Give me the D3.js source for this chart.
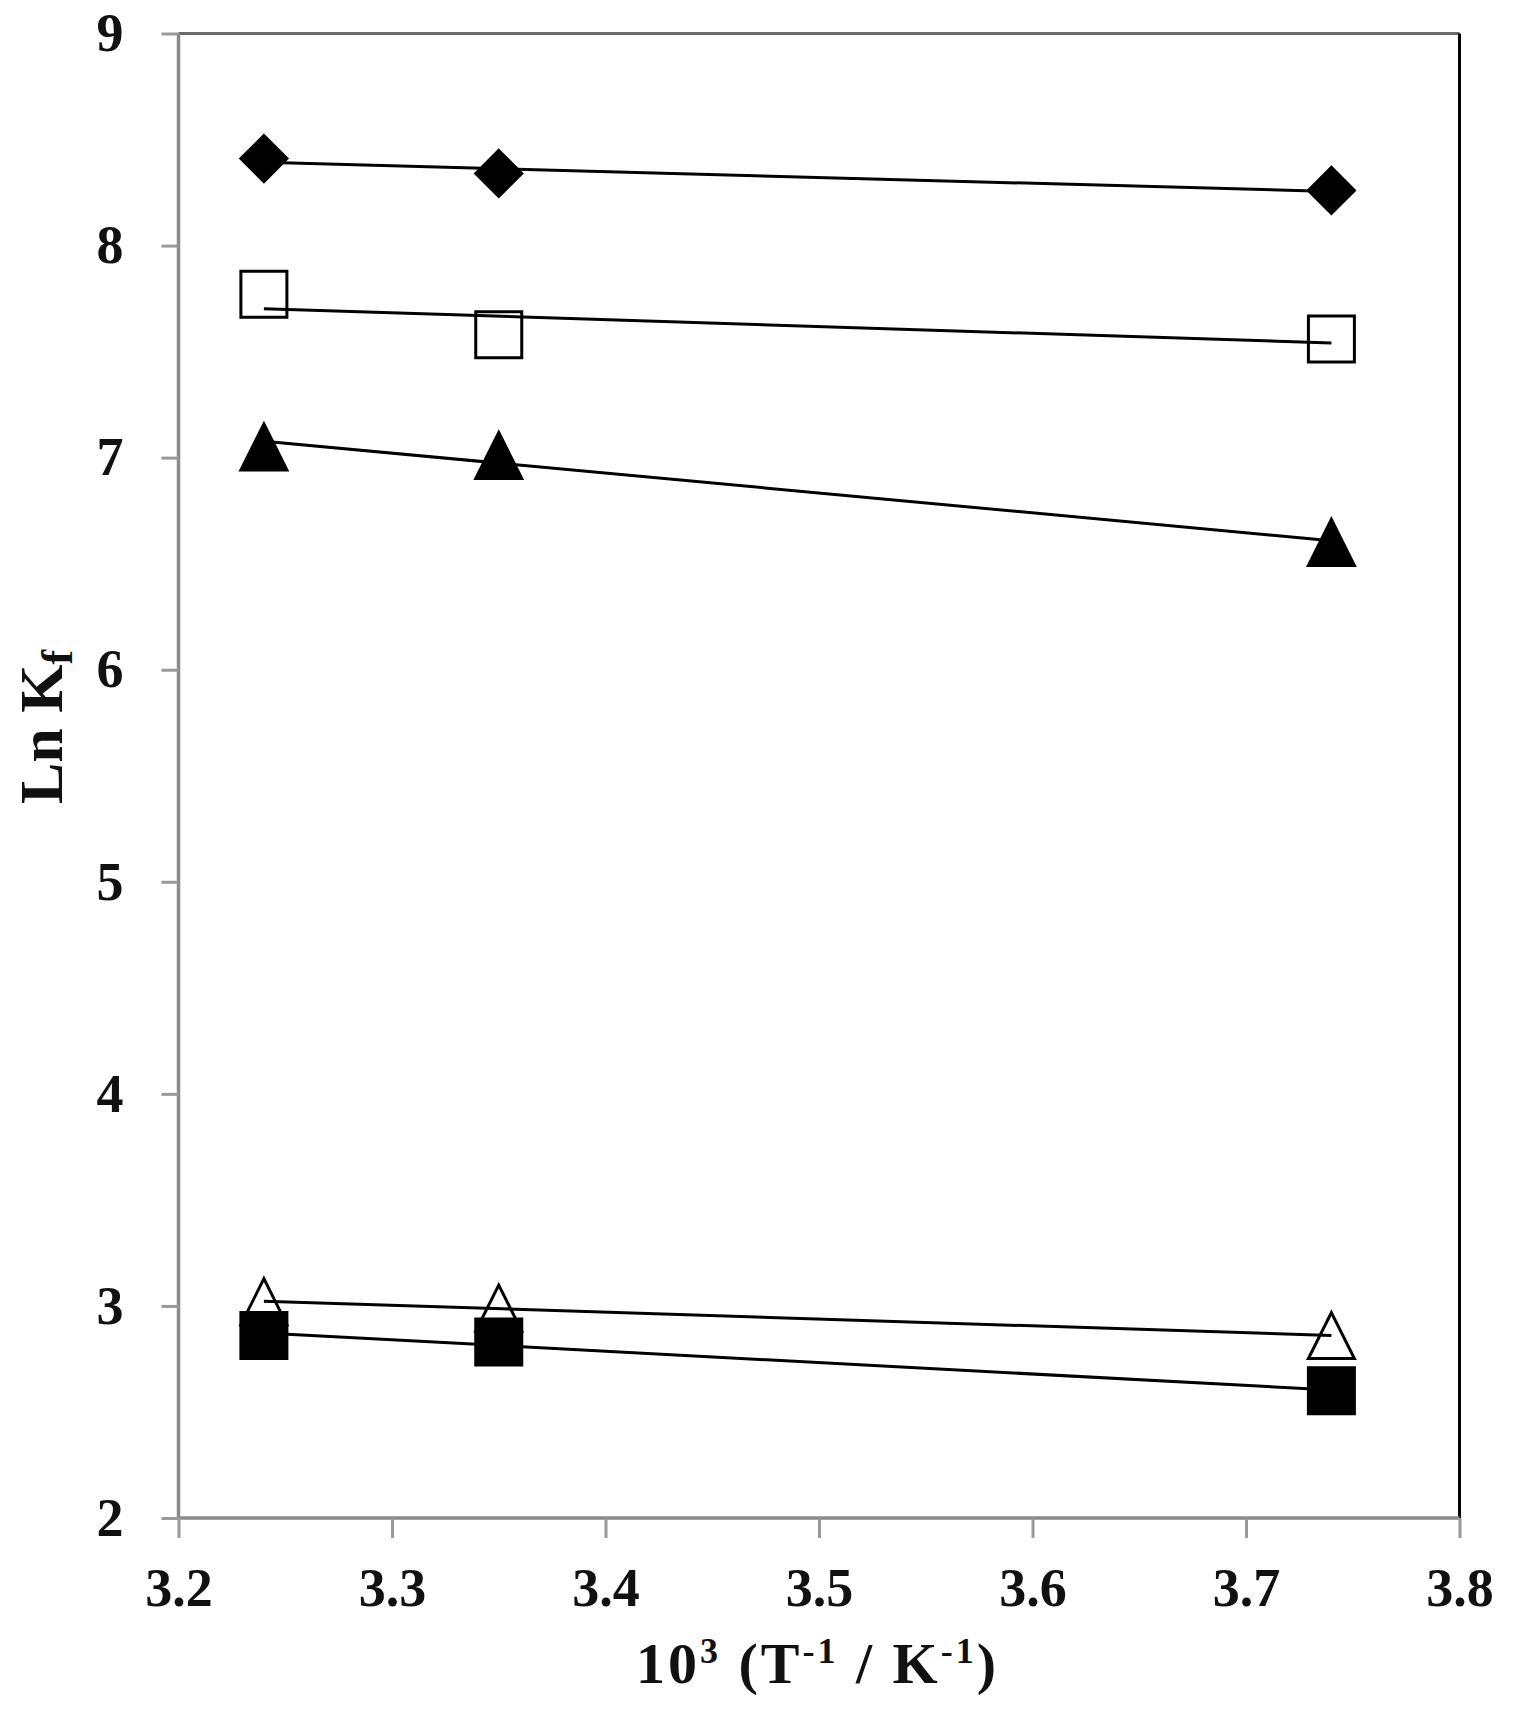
<!DOCTYPE html>
<html>
<head>
<meta charset="utf-8">
<script src="https://cdn.jsdelivr.net/npm/d3@7"></script>
<style>
  html, body { margin: 0; padding: 0; background: #fff; }
  svg { display: block; }
  text { font-family: "Liberation Serif", "Times New Roman", serif; }
</style>
</head>
<body>
<script>
// ---- data ----
const xValues = [3.24, 3.35, 3.74];
const diamondFilled = [8.41, 8.34, 8.26];
const squareOpen = [7.77, 7.58, 7.56];
const triangleFilled = [7.05, 7.01, 6.60];
const triangleOpen = [3.02, 2.99, 2.86];
const squareFilled = [2.86, 2.83, 2.60];
const xTicks = [3.2, 3.3, 3.4, 3.5, 3.6, 3.7, 3.8];
const yTicks = [2, 3, 4, 5, 6, 7, 8, 9];

const W = 1515, H = 1728;
const mLeft = 178.5, mRight = 1459.5, mTop = 33.5, mBottom = 1518;

const svg = d3.select("body").append("svg").attr("width", W).attr("height", H);

const x = d3.scaleLinear().domain([3.2, 3.8]).range([mLeft, mRight]);
const y = d3.scaleLinear().domain([2, 9]).range([mBottom, mTop]);

// border top/right
svg.append("line").attr("x1", mLeft).attr("x2", mRight).attr("y1", mTop).attr("y2", mTop)
  .attr("stroke", "#6a6a6a").attr("stroke-width", 3);
svg.append("line").attr("x1", mRight).attr("x2", mRight).attr("y1", mTop).attr("y2", mBottom)
  .attr("stroke", "#000").attr("stroke-width", 3);

// axes
const yAxis = svg.append("g").attr("transform", `translate(${mLeft},0)`)
  .call(d3.axisLeft(y).tickValues(yTicks).tickSize(17).tickPadding(38).tickFormat(d3.format("d")));
const xAxis = svg.append("g").attr("transform", `translate(0,${mBottom})`)
  .call(d3.axisBottom(x).tickValues(xTicks).tickSize(20).tickPadding(30).tickFormat(d3.format(".1f")));

[yAxis, xAxis].forEach(g => {
  g.select(".domain").attr("stroke", "#8a8a8a").attr("stroke-width", 3.5);
  g.selectAll(".tick line").attr("stroke", "#9a9a9a").attr("stroke-width", 3);
  g.selectAll(".tick text")
    .attr("font-family", "Liberation Serif, Times New Roman, serif")
    .attr("font-size", 54).attr("font-weight", "bold").attr("fill", "#111");
});
xAxis.select(".domain").attr("d", `M${mLeft},0H${mRight}`);
yAxis.select(".domain").attr("d", `M0,${mBottom}V${mTop}`);

// axis titles
const yt = svg.append("text")
  .attr("transform", `translate(62,727) rotate(-90)`)
  .attr("text-anchor", "middle")
  .attr("font-size", 62).attr("font-weight", "bold").attr("fill", "#111");
yt.append("tspan").text("Ln K");
yt.append("tspan").attr("font-size", 44).attr("dy", 10).text("f");

const xt = svg.append("text")
  .attr("x", 816).attr("y", 1683)
  .attr("text-anchor", "middle")
  .attr("font-size", 58).attr("fill", "#111").attr("font-weight", "bold")
  .attr("textLength", 360).attr("lengthAdjust", "spacing");
xt.append("tspan").text("10");
xt.append("tspan").attr("font-size", 36).attr("dy", -20).text("3");
xt.append("tspan").attr("dy", 20).text(" (T");
xt.append("tspan").attr("font-size", 36).attr("dy", -20).text("-1");
xt.append("tspan").attr("dy", 20).text(" / K");
xt.append("tspan").attr("font-size", 36).attr("dy", -20).text("-1");
xt.append("tspan").attr("dy", 20).text(")");

// markers
const half = 23;
const shapes = {
  diamond: `M0,${-half}L${half},0L0,${half}L${-half},0Z`,
  square: `M${-half},${-half}H${half}V${half}H${-half}Z`,
  triangle: `M0,${-half}L${half},${half}H${-half}Z`
};

const series = [
  { vals: diamondFilled, shape: "diamond", fill: "#000" },
  { vals: squareOpen, shape: "square", fill: "#fff" },
  { vals: triangleFilled, shape: "triangle", fill: "#000" },
  { vals: triangleOpen, shape: "triangle", fill: "#fff" },
  { vals: squareFilled, shape: "square", fill: "#000" }
];

series.forEach(s => {
  svg.append("g").selectAll("path")
    .data(xValues.map((xv, i) => [xv, s.vals[i]]))
    .join("path")
    .attr("transform", d => `translate(${x(d[0])},${y(d[1])})`)
    .attr("d", shapes[s.shape])
    .attr("fill", s.fill)
    .attr("stroke", "#000")
    .attr("stroke-width", 3);
});

// linear trendlines (least squares fit of each series)
function fit(xs, ys) {
  const mx = d3.mean(xs), my = d3.mean(ys);
  const sxy = d3.sum(xs, (v, i) => (v - mx) * (ys[i] - my));
  const sxx = d3.sum(xs, v => (v - mx) * (v - mx));
  const b = sxy / sxx, a = my - b * mx;
  return v => a + b * v;
}
const x0 = d3.min(xValues), x1 = d3.max(xValues);
series.forEach(s => {
  const f = fit(xValues, s.vals);
  svg.append("line")
    .attr("x1", x(x0)).attr("y1", y(f(x0)))
    .attr("x2", x(x1)).attr("y2", y(f(x1)))
    .attr("stroke", "#000").attr("stroke-width", 3);
});
</script>
</body>
</html>
